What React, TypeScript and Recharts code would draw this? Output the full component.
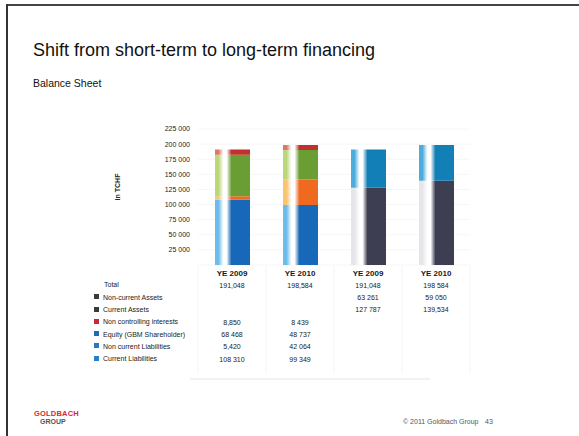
import React from 'react';
import { BarChart, Bar, XAxis, YAxis, CartesianGrid } from 'recharts';

const categories = ['YE 2009', 'YE 2010', 'YE 2009', 'YE 2010'];
const keys = ['L2009', 'L2010', 'A2009', 'A2010'];
const currentLiabilities = [108310, 99349, null, null];
const nonCurrentLiabilities = [5420, 42064, null, null];
const equity = [68468, 48737, null, null];
const nonControlling = [8850, 8439, null, null];
const currentAssets = [null, null, 127787, 139534];
const nonCurrentAssets = [null, null, 63261, 59050];

const totalLabels = ['191,048', '198,584', '191,048', '198 584'];
const nonCurrentAssetsLabels = ['', '', '63 261', '59 050'];
const currentAssetsLabels = ['', '', '127 787', '139,534'];
const nciLabels = ['8,850', '8 439', '', ''];
const equityLabels = ['68 468', '48 737', '', ''];
const nclLabels = ['5,420', '42 064', '', ''];
const clLabels = ['108 310', '99 349', '', ''];

const yTicks = [25000, 50000, 75000, 100000, 125000, 150000, 175000, 200000, 225000];
const yTickLabels = ['25 000', '50 000', '75 000', '100 000', '125 000', '150 000', '175 000', '200 000', '225 000'];

const rowNames = [
  'Total',
  'Non-current Assets',
  'Current Assets',
  'Non controlling interests',
  'Equity (GBM Shareholder)',
  'Non current Liabilities',
  'Current Liabilities',
];
const rowSwatches = [null, '#3a3a3a', '#3a3a3a', '#c8283a', '#2468b4', '#2c74c4', '#2a80c8'];
const rowValues = [totalLabels, nonCurrentAssetsLabels, currentAssetsLabels, nciLabels, equityLabels, nclLabels, clLabels];

const data = keys.map((k, i) => ({
  key: k,
  cl: currentLiabilities[i],
  ncl: nonCurrentLiabilities[i],
  eq: equity[i],
  nci: nonControlling[i],
  ca: currentAssets[i],
  nca: nonCurrentAssets[i],
}));

const FONT = '"Liberation Sans", Arial, Helvetica, sans-serif';

const gradients = [
  { id: 'gCl', light: '#6cbcec', dark: '#1768b8' },
  { id: 'gNcl', light: '#fbc46e', dark: '#ef6a1e' },
  { id: 'gEq', light: '#bcd67a', dark: '#6a9e34' },
  { id: 'gNci', light: '#e0766a', dark: '#c0302c' },
  { id: 'gCa', light: '#e6e6ea', dark: '#3e3e52' },
  { id: 'gNca', light: '#4eacdc', dark: '#1280b6' },
];

const ROW_Y0 = 273;
const ROW_STEP = 12.3;

const TableTick = (props: any) => {
  const { x, payload } = props;
  const i = payload.index;
  return (
    <g>
      <line x1={x - 34} x2={x - 34} y1={266} y2={372} stroke="#f4f4f4" />
      {i === 3 && <line x1={x + 34} x2={x + 34} y1={266} y2={372} stroke="#f4f4f4" />}
      <text x={x} y={ROW_Y0 + 3} textAnchor="middle" fontSize={8} fontWeight={600} fill="#1a1a1a" fontFamily={FONT}>
        {categories[i]}
      </text>
      {rowValues.map((vals, r) => (
        <text
          key={r}
          x={x}
          y={ROW_Y0 + ROW_STEP * (r + 1) + 2.5}
          textAnchor="middle"
          fontSize={7}
          fill="#222"
          fontFamily={FONT}
        >
          {vals[i]}
        </text>
      ))}
    </g>
  );
};

export default function App() {
  return (
    <div style={{ position: 'absolute', left: 0, top: 0, width: 579, height: 436, background: '#fff', fontFamily: FONT, overflow: 'hidden' }}>
      <div style={{ position: 'absolute', left: 6, top: 4, width: 573, height: 2, background: '#444' }} />
      <div style={{ position: 'absolute', left: 6, top: 4, width: 2, height: 432, background: '#333' }} />
      <div style={{ position: 'absolute', left: 33, top: 40, fontSize: 18, color: '#111', whiteSpace: 'nowrap' }}>
        Shift from short-term to long-term financing
      </div>
      <div style={{ position: 'absolute', left: 33, top: 77, fontSize: 10.5, color: '#111', whiteSpace: 'nowrap' }}>
        Balance Sheet
      </div>
      <div
        style={{
          position: 'absolute',
          left: 117,
          top: 187,
          fontSize: 7,
          fontWeight: 700,
          color: '#222',
          whiteSpace: 'nowrap',
          transform: 'translate(-50%, -50%) rotate(-90deg)',
        }}
      >
        in TCHF
      </div>
      <div style={{ position: 'absolute', left: 0, top: 0 }}>
        <BarChart width={579} height={436} data={data} margin={{ top: 129, right: 109, bottom: 11, left: 0 }} barSize={35}>
          <defs>
            {gradients.map((g) => (
              <linearGradient key={g.id} id={g.id} x1="0" y1="0" x2="1" y2="0">
                <stop offset="0%" stopColor={g.light} />
                <stop offset="10%" stopColor={g.light} />
                <stop offset="24%" stopColor="#ffffff" />
                <stop offset="33%" stopColor="#ffffff" />
                <stop offset="47%" stopColor={g.dark} />
                <stop offset="100%" stopColor={g.dark} />
              </linearGradient>
            ))}
          </defs>
          <CartesianGrid vertical={false} stroke="#f6f6f6" />
          <XAxis dataKey="key" height={160} axisLine={false} tickLine={false} tick={<TableTick />} interval={0} />
          <YAxis
            width={198}
            domain={[0, 225000]}
            ticks={yTicks}
            axisLine={false}
            tickLine={false}
            tick={{ fontSize: 7, fill: '#222', fontFamily: FONT }}
            tickFormatter={(v: number) => yTickLabels[yTicks.indexOf(v)] ?? ''}
            interval={0}
          />
          <Bar dataKey="cl" stackId="a" fill="url(#gCl)" isAnimationActive={false} />
          <Bar dataKey="ncl" stackId="a" fill="url(#gNcl)" isAnimationActive={false} />
          <Bar dataKey="eq" stackId="a" fill="url(#gEq)" isAnimationActive={false} />
          <Bar dataKey="nci" stackId="a" fill="url(#gNci)" isAnimationActive={false} />
          <Bar dataKey="ca" stackId="a" fill="url(#gCa)" isAnimationActive={false} />
          <Bar dataKey="nca" stackId="a" fill="url(#gNca)" isAnimationActive={false} />
        </BarChart>
      </div>
      {rowNames.map((name, r) => (
        <div
          key={name}
          style={{
            position: 'absolute',
            left: 94,
            top: ROW_Y0 + ROW_STEP * (r + 1) - 5,
            height: 10,
            lineHeight: '10px',
            fontSize: 7,
            color: '#222',
            whiteSpace: 'nowrap',
          }}
        >
          {rowSwatches[r] && (
            <span style={{ display: 'inline-block', width: 5, height: 5, background: rowSwatches[r] as string, marginRight: 4, verticalAlign: 'middle', position: 'relative', top: -1 }} />
          )}
          <span style={{ marginLeft: rowSwatches[r] ? 0 : 10 }}>{name}</span>
        </div>
      ))}
      <div style={{ position: 'absolute', left: 190, top: 378, width: 240, height: 2, background: '#f2f2f2' }} />
      <div style={{ position: 'absolute', left: 34, top: 410, lineHeight: '8px' }}>
        <div style={{ fontSize: 7.5, fontWeight: 700, color: '#d0283a', letterSpacing: 0.2 }}>GOLDBACH</div>
        <div style={{ fontSize: 7, fontWeight: 700, color: '#555', marginLeft: 6 }}>GROUP</div>
      </div>
      <div style={{ position: 'absolute', left: 403, top: 418, fontSize: 7, color: '#555', whiteSpace: 'nowrap' }}>
        © 2011 Goldbach Group
      </div>
      <div style={{ position: 'absolute', left: 485, top: 418, fontSize: 7, color: '#555' }}>43</div>
    </div>
  );
}
